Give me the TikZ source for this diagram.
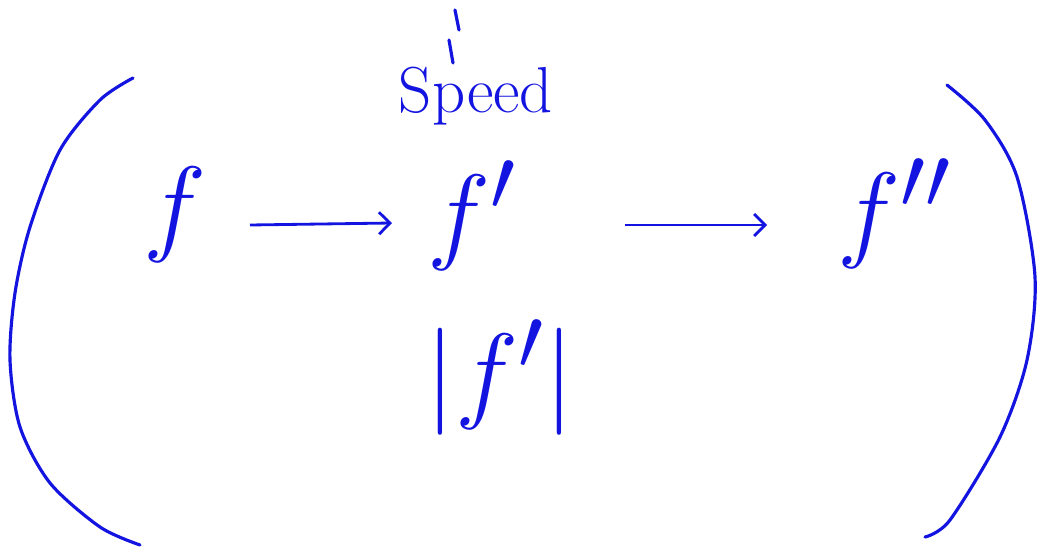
\documentclass[tikz,border=0pt]{standalone}
\usepackage{graphicx}
\usepackage{tikz}
\usetikzlibrary{positioning,arrows.meta}
\usepackage{xcolor}
\definecolor{ink}{RGB}{20,20,225}
\newcommand{\bigsym}[1]{\scalebox{2.45}{$#1$}}

\begin{document}
\begin{tikzpicture}[
    x=0.02cm, y=-0.02cm,
    sym/.style={text=ink, inner sep=0pt, font=\Huge},
    word/.style={text=ink, inner sep=0pt, font=\fontsize{37}{40}\selectfont},
    line/.style={-{Straight Barb[length=2.2mm]}, line width=1.6pt, draw=ink},
    paren/.style={line width=1.8pt, draw=ink, line cap=round}
]
\useasboundingbox (0,0) rectangle (1048,547);

\node[sym] (f) at (175,215) {\bigsym{f}};
\node[sym] (fp) at (472,216) {\bigsym{f'}};
\node[sym] (fpp) at (895,214) {\bigsym{f''}};
\node[word] (speed) at (476,96) {Speed};
\node[sym] (abs) at (500,378) {\bigsym{|f'|}};
\coordinate (markA) at (455,10);
\coordinate (markB) at (459,30);
\coordinate (markC) at (449,40);
\coordinate (markD) at (453,63);
\coordinate (a1) at (250,225);
\coordinate (b1) at (392,223);
\coordinate (a2) at (625,225);
\coordinate (b2) at (767,225);

\draw[line] (a1) -- (b1);
\draw[line] (a2) -- (b2);
\draw[paren] (markA) -- (markB);
\draw[paren] (markC) -- (markD);

% brackets
\draw[paren] plot[smooth] coordinates {(133,78) (100,100) (60,150) (30,227)
    (15,293) (10,360) (20,427) (50,483) (100,527) (140,545)};
\draw[paren] plot[smooth] coordinates {(947,85) (985,120) (1017,177)
    (1035,277) (1027,360) (1000,437) (950,520) (925,537)};
\end{tikzpicture}
\end{document}
